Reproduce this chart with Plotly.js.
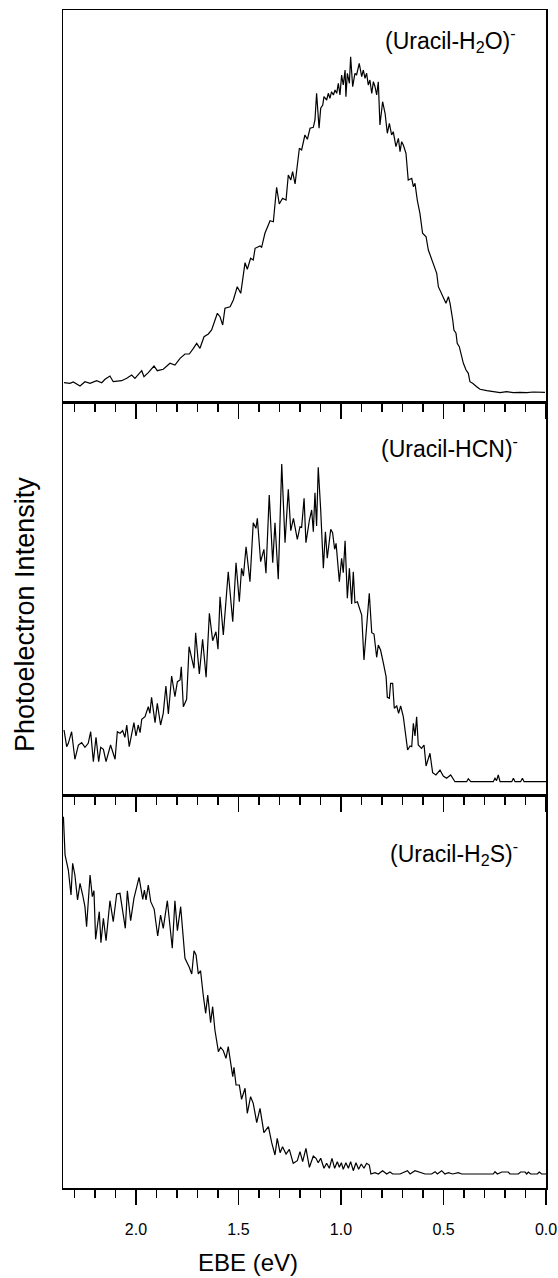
<!DOCTYPE html>
<html><head><meta charset="utf-8">
<script src="https://cdn.plot.ly/plotly-3.0.1.min.js"></script>
<style>html,body{margin:0;padding:0;background:#fff}</style>
</head><body><div id="chart" style="width:558px;height:1278px"></div>
<script>
// ---- Data (EBE in eV, intensity in arbitrary units) ----
const ebeH2O = [2.351,2.322,2.306,2.273,2.249,2.224,2.192,2.167,2.151,2.127,2.111,2.070,2.045,2.021,2.005,1.972,1.961,1.940,1.912,1.896,1.867,1.834,1.810,1.785,1.761,1.740,1.720,1.704,1.688,1.668,1.647,1.631,1.603,1.590,1.577,1.566,1.541,1.525,1.506,1.489,1.468,1.457,1.441,1.428,1.419,1.395,1.387,1.371,1.346,1.330,1.314,1.301,1.285,1.268,1.257,1.245,1.236,1.224,1.203,1.192,1.176,
1.164,1.151,1.135,1.127,1.119,1.107,1.099,1.089,1.083,1.070,1.062,1.054,1.046,1.037,1.029,1.021,1.013,1.005,0.997,0.989,0.980,0.976,0.969,0.959,0.953,0.943,0.932,0.924,0.911,0.899,0.891,0.883,0.875,0.867,0.859,0.850,0.842,0.834,0.826,0.818,0.810,0.797,0.785,0.774,0.764,0.753,0.745,0.732,0.720,0.712,0.704,0.696,0.683,0.672,0.655,0.647,0.639,0.628,0.615,0.602,0.585,0.574,0.558,0.541,0.533,0.525,0.509,0.488,0.476,0.468,0.455,0.449,0.439,0.433,0.423,0.411,0.403,0.390,0.379,0.371,0.358,0.338,0.322,0.289,0.257,0.224,0.192,0.159,0.127,0.094,0.062,0.029,0.005];
const intH2O = [19.3,18.7,20.0,16.0,20.3,18.7,21.3,19.3,22.7,26.0,20.3,21.3,23.7,27.0,23.7,31.3,25.3,29.3,36.0,31.3,32.7,38.7,37.0,43.7,48.0,48.0,53.7,58.7,53.7,65.3,68.0,72.0,88.7,85.3,77.0,93.7,95.3,102.0,115.3,108.7,139.3,132.7,143.7,142.0,153.7,156.0,154.7,168.7,181.3,180.3,214.7,198.0,203.7,202.0,227.0,222.0,230.3,218.0,253.7,252.0,267.0,
262.7,273.7,274.7,282.0,308.7,273.7,293.7,297.0,305.3,302.0,308.7,303.7,310.3,307.0,312.0,308.7,318.7,307.0,327.0,317.0,332.0,305.3,328.7,318.7,345.3,315.3,328.7,327.0,338.7,325.3,332.0,323.7,328.7,317.0,322.0,308.7,320.3,315.3,307.0,320.3,277.0,300.3,288.7,268.7,278.7,267.0,270.3,255.3,263.7,250.3,260.3,257.0,248.7,222.0,223.7,215.3,218.7,202.0,188.7,168.7,165.3,152.0,142.0,132.0,128.7,115.3,108.7,98.7,105.3,98.7,82.0,72.0,68.7,58.7,55.3,43.7,38.7,32.0,28.7,20.3,18.7,15.3,12.7,11.3,10.0,9.3,10.3,9.3,9.7,9.3,10.0,9.7,9.7];

const ebeHCN = [2.351,2.338,2.330,2.314,2.298,2.281,2.265,2.249,2.233,2.221,2.208,2.195,2.182,2.172,2.159,2.146,2.124,2.102,2.091,2.078,2.065,2.054,2.045,2.033,2.010,2.000,1.989,1.980,1.972,1.956,1.940,1.932,1.924,1.907,1.896,1.880,1.867,1.854,1.842,1.826,1.810,1.798,1.785,1.779,1.769,1.753,1.741,1.728,1.717,1.709,1.691,1.675,1.658,1.642,1.626,1.610,1.600,1.590,1.574,1.550,1.528,1.512,1.496,1.485,1.476,1.463,1.444,1.428,1.415,1.408,1.392,1.376,1.366,1.350,1.333,1.322,1.306,1.289,1.273,1.257,1.245,1.232,1.213,1.200,1.192,
1.180,1.171,1.154,1.143,1.135,1.127,1.119,1.111,1.099,1.086,1.076,1.067,1.050,1.041,1.031,1.024,1.008,0.997,0.989,0.980,0.969,0.959,0.948,0.940,0.932,0.920,0.899,0.888,0.862,0.850,0.839,0.826,0.818,0.807,0.793,0.780,0.774,0.764,0.758,0.748,0.740,0.728,0.719,0.709,0.696,0.683,0.675,0.663,0.655,0.647,0.639,0.631,0.623,0.607,0.595,0.585,0.566,0.553,0.537,0.517,0.501,0.485,0.465,0.444,0.387,0.379,0.367,0.257,0.249,0.241,0.233,0.224,0.167,0.159,0.151,0.124,0.115,0.107,0.000];
const intHCN = [65.0,48.3,51.7,63.3,35.7,50.0,52.3,47.7,51.7,63.3,33.3,57.7,33.3,47.7,45.7,33.3,50.0,35.7,63.3,61.7,64.3,57.7,70.0,48.3,72.3,59.0,70.0,62.3,75.7,78.3,88.3,81.7,97.7,72.3,91.7,70.0,81.7,109.0,81.0,119.0,98.3,113.3,115.0,128.3,88.3,95.7,148.3,136.7,126.7,162.3,121.0,155.7,117.7,181.7,154.3,163.3,145.7,198.3,160.0,223.3,173.3,232.3,193.3,226.7,219.0,248.3,213.3,272.3,266.7,276.7,233.3,245.7,221.7,300.0,232.3,272.3,215.7,331.0,252.3,305.7,264.3,276.7,255.7,268.3,267.7,
296.7,252.3,275.0,285.0,263.3,302.3,269.0,327.7,285.0,226.7,263.3,236.7,265.7,262.3,245.7,251.7,213.3,236.7,222.3,254.3,196.7,226.7,191.0,223.3,192.3,193.3,180.0,135.0,201.7,162.3,161.0,137.7,150.0,145.0,131.7,118.3,97.7,96.7,111.7,111.7,86.7,89.0,81.7,89.0,78.3,58.3,45.0,49.0,48.3,71.7,59.0,78.3,50.0,46.7,50.0,29.0,41.7,22.3,20.0,25.0,19.0,16.7,20.0,13.3,13.3,16.3,13.3,13.3,16.7,14.3,20.0,13.3,13.3,16.7,13.3,13.3,16.7,13.3,13.3];

const ebeH2S = [2.354,2.346,2.330,2.317,2.309,2.298,2.285,2.273,2.260,2.249,2.241,2.224,2.213,2.205,2.197,2.179,2.171,2.159,2.146,2.127,2.111,2.094,2.078,2.065,2.052,2.042,2.026,2.010,1.985,1.967,1.959,1.951,1.940,1.928,1.911,1.904,1.894,1.880,1.867,1.847,1.834,1.823,1.810,1.798,1.782,1.761,1.740,1.728,1.717,1.707,1.696,1.685,1.672,1.660,1.650,1.636,1.626,1.615,1.598,1.587,1.574,1.561,1.550,1.538,1.528,1.522,1.512,1.496,1.485,1.468,1.457,1.441,1.428,1.411,1.395,1.376,1.354,1.338,1.322,1.311,1.297,1.285,1.268,1.252,1.233,1.213,
1.200,1.187,1.171,1.154,1.135,1.122,1.111,1.099,1.083,1.070,1.057,1.044,1.031,1.018,1.008,0.998,0.989,0.976,0.964,0.953,0.940,0.927,0.914,0.901,0.888,0.875,0.862,0.854,0.834,0.818,0.797,0.777,0.761,0.748,0.712,0.676,0.663,0.639,0.615,0.590,0.558,0.541,0.530,0.509,0.493,0.476,0.455,0.428,0.411,0.257,0.249,0.237,0.216,0.184,0.176,0.135,0.124,0.102,0.094,0.086,0.075,0.042,0.033,0.021,0.000];
const intH2S = [371.3,333.0,318.0,293.0,324.7,313.0,288.0,304.7,293.0,281.3,261.3,313.0,291.3,297.3,248.7,276.3,245.3,269.7,247.3,287.3,266.3,294.0,294.7,278.0,259.7,297.3,267.3,289.7,310.7,288.7,298.0,288.0,303.0,286.3,278.7,267.3,252.0,273.0,259.7,287.3,262.0,239.7,287.3,257.3,281.3,229.7,220.7,214.0,237.3,233.0,214.0,217.3,193.0,174.7,193.0,165.3,181.3,158.0,136.3,140.7,137.3,129.7,141.3,124.7,111.3,120.7,103.0,103.0,88.7,99.7,74.7,91.3,84.7,65.3,79.7,55.3,61.3,45.3,33.0,49.7,35.3,41.3,34.0,38.7,24.7,27.3,
36.3,26.3,39.7,20.7,32.0,29.7,25.3,29.7,19.7,24.7,19.7,29.7,19.7,26.3,20.7,25.3,18.7,25.3,19.7,26.3,17.3,25.3,18.7,24.0,19.7,24.7,23.0,14.0,15.3,14.0,17.3,14.0,16.0,14.0,14.0,17.3,14.0,17.3,15.3,14.0,14.0,16.3,14.0,17.3,14.0,15.3,14.0,15.3,14.0,14.0,16.3,14.0,16.0,16.0,14.0,14.0,16.0,16.0,14.0,16.0,14.0,14.0,16.0,14.0,14.0];

const tickVals = [2.0, 1.5, 1.0, 0.5, 0.0];
const tickText = ['2.0', '1.5', '1.0', '0.5', '0.0'];
const labels = ['(Uracil-H<sub>2</sub>O)<sup>-</sup>', '(Uracil-HCN)<sup>-</sup>', '(Uracil-H<sub>2</sub>S)<sup>-</sup>'];
const xTitle = 'EBE (eV)';
const yTitle = 'Photoelectron Intensity';

// ---- Styling ----
const FONT = '"Liberation Sans", Arial, sans-serif';
const xRange = [2.356, 0];

function xax(anchor, showLabels) {
  return {
    range: xRange, anchor: anchor, showline: true, mirror: true,
    linecolor: '#000', linewidth: 1.5,
    ticks: 'outside', ticklen: 15, tickwidth: 1.5, tickcolor: '#000',
    tickmode: 'array', tickvals: tickVals, ticktext: tickText,
    showticklabels: showLabels, ticklabelstandoff: 11,
    minor: {dtick: 0.1, tick0: 0, ticks: 'outside', ticklen: 8, tickwidth: 1.5, tickcolor: '#000', showgrid: false},
    showgrid: false, zeroline: false,
    tickfont: {family: FONT, size: 16, color: '#000'}
  };
}
function yax(domain, top) {
  return {
    domain: domain, range: [0, top], showline: true, mirror: true,
    linecolor: '#000', linewidth: 1.5, ticks: '', showticklabels: false,
    showgrid: false, zeroline: false, fixedrange: true
  };
}

const lineStyle = {color: '#000', width: 1.2};
const traces = [
  {x: ebeH2S, y: intH2S, xaxis: 'x', yaxis: 'y', mode: 'lines', line: lineStyle, hoverinfo: 'skip'},
  {x: ebeHCN, y: intHCN, xaxis: 'x2', yaxis: 'y2', mode: 'lines', line: lineStyle, hoverinfo: 'skip'},
  {x: ebeH2O, y: intH2O, xaxis: 'x3', yaxis: 'y3', mode: 'lines', line: lineStyle, hoverinfo: 'skip'}
];

const H = 1178;
const d1 = (1188 - 795) / H, d2 = (1188 - 402) / H;
const px = p => (p - 63) / 483;
const py = p => (1188 - p) / H;

const annFont = {family: FONT, size: 23, color: '#000'};
const layout = {
  width: 558, height: 1278,
  margin: {l: 63, r: 12, t: 10, b: 90},
  paper_bgcolor: '#fff', plot_bgcolor: 'rgba(0,0,0,0)',
  showlegend: false,
  xaxis: xax('y', true),
  xaxis2: Object.assign(xax('y2', false), {matches: 'x'}),
  xaxis3: Object.assign(xax('y3', false), {matches: 'x'}),
  yaxis: yax([0, d1], 393),
  yaxis2: yax([d1, d2], 393),
  yaxis3: yax([d2, 1], 392),
  annotations: [
    {text: labels[0], xref: 'paper', yref: 'paper', x: px(383), y: py(40), xanchor: 'left', yanchor: 'middle', showarrow: false, font: annFont},
    {text: labels[1], xref: 'paper', yref: 'paper', x: px(379), y: py(447), xanchor: 'left', yanchor: 'middle', showarrow: false, font: annFont},
    {text: labels[2], xref: 'paper', yref: 'paper', x: px(388), y: py(853), xanchor: 'left', yanchor: 'middle', showarrow: false, font: annFont},
    {text: xTitle, xref: 'paper', yref: 'paper', x: px(247.5), y: py(1262), xanchor: 'center', yanchor: 'middle', showarrow: false, font: {family: FONT, size: 24, color: '#000'}},
    {text: yTitle, xref: 'paper', yref: 'paper', x: px(25), y: py(615), xanchor: 'center', yanchor: 'middle', textangle: -90, showarrow: false, font: {family: FONT, size: 27, color: '#000'}}
  ]
};

Plotly.newPlot('chart', traces, layout, {displayModeBar: false, staticPlot: true});
</script>
</body></html>
